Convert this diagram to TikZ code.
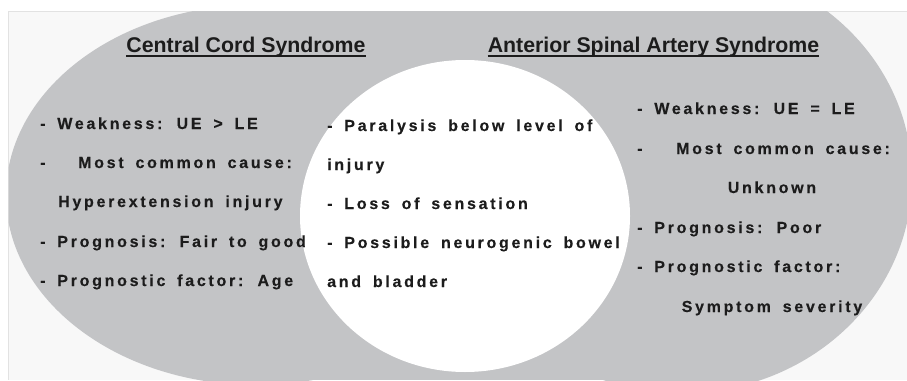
\documentclass[tikz,border=0pt]{standalone}
\usepackage{fontspec}
\setmainfont{Liberation Sans}
\newfontfamily\spaced[LetterSpace=17,WordSpace=1.65,FakeBold=0.3]{Liberation Sans}
\definecolor{venngrey}{RGB}{195,196,198}
\definecolor{panel}{RGB}{248,248,248}
\definecolor{paneledge}{RGB}{226,226,226}
\definecolor{ink}{RGB}{28,28,28}
\begin{document}
\begin{tikzpicture}[x=1pt,y=-1pt,
  body/.style={anchor=base west,inner sep=0pt,text=ink,font=\spaced\bfseries\fontsize{16}{19}\selectfont},
  bodyc/.style={body,anchor=base},
  title/.style={anchor=base,inner sep=0pt,text=ink,font=\bfseries\fontsize{21.3}{25}\selectfont},
  uline/.style={draw=ink,line width=1.8pt}]
\useasboundingbox (0,0) rectangle (907,380);
\fill[white] (0,0) rectangle (907,380);
\fill[panel] (8,11) rectangle (907,380);
\draw[paneledge,line width=0.8pt] (8,380) -- (8,11) -- (907,11);
\begin{scope}
  \clip (8.5,11.5) rectangle (907,380);
  \fill[venngrey] (256,195) ellipse [x radius=250, y radius=190];
  \fill[venngrey] (682,178) ellipse [x radius=230, y radius=215];
  \fill[venngrey] (256,11) rectangle (682,380);
\end{scope}
\fill[white] (465,216) ellipse [x radius=165, y radius=156];

% titles
\node[title] (tl) at (246,52) {Central Cord Syndrome};
\node[title] (tr) at (653.5,52) {Anterior Spinal Artery Syndrome};
\draw[uline] ([yshift=-4]tl.base west) -- ([yshift=-4]tl.base east);
\draw[uline] ([yshift=-4]tr.base west) -- ([yshift=-4]tr.base east);

% left block
\node[body] (l1) at (40,129) {- Weakness: UE > LE};
\node[body] (l2a) at (40,168) {-};
\node[body] (l2b) at (78,168) {Most common cause:};
\node[body] (l3) at (58,207) {Hyperextension injury};
\node[body] (l4) at (40,247) {- Prognosis: Fair to good};
\node[body] (l5) at (40,286) {- Prognostic factor: Age};

% centre block
\node[body] (c1) at (327,131) {- Paralysis below level of};
\node[body] (c2) at (327,170) {injury};
\node[body] (c3) at (327,209) {- Loss of sensation};
\node[body] (c4) at (327,248) {- Possible neurogenic bowel};
\node[body] (c5) at (327,287) {and bladder};

% right block
\node[body] (r1) at (637,114) {- Weakness: UE = LE};
\node[body] (r2a) at (637,154) {-};
\node[body] (r2b) at (676,154) {Most common cause:};
\node[bodyc] (r3) at (772,193) {Unknown};
\node[body] (r4) at (637,233) {- Prognosis: Poor};
\node[body] (r5) at (637,272) {- Prognostic factor:};
\node[bodyc] (r6) at (772,312) {Symptom severity};
\end{tikzpicture}
\end{document}
